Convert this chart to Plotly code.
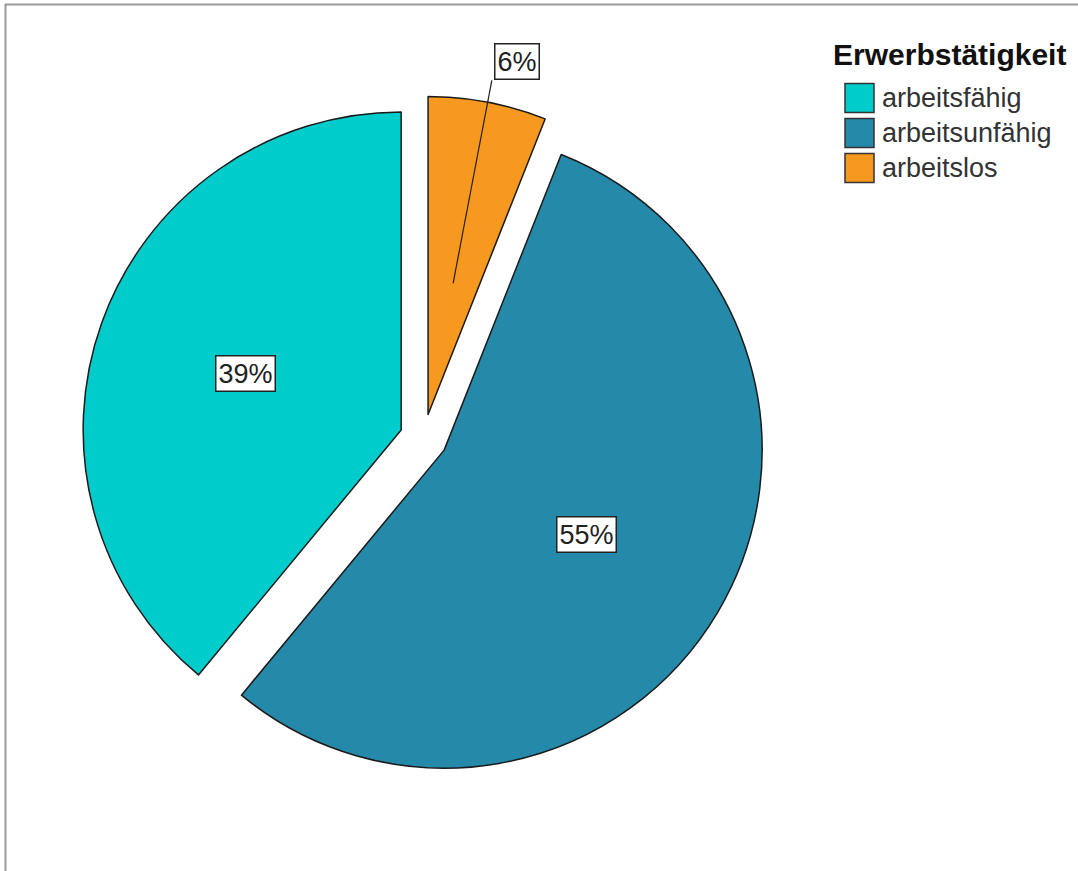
import math
import plotly.graph_objects as go

# Erwerbstätigkeit distribution
categories = ["arbeitsfähig", "arbeitsunfähig", "arbeitslos"]
values = [39, 55, 6]
colors = ["#00CCCC", "#2589AA", "#F7991F"]
legend_title = "Erwerbstätigkeit"

W, H = 1078, 871
FONT = "Liberation Sans, Arial, sans-serif"

# pie geometry (pixels); slices run counterclockwise, the first one ending at 12 o'clock
radius = 318
pull = 0.075
cx, cy = 423.6, 438.0
total = sum(values)
first_span = 360 * values[0] / total
rotation = 360 - first_span
box = 2 * radius * (1 + pull)

def px(x):
    return x / W

def py(y):
    return 1 - y / H

fig = go.Figure(
    go.Pie(
        labels=categories,
        values=values,
        sort=False,
        direction="counterclockwise",
        rotation=rotation,
        pull=pull,
        marker=dict(colors=colors, line=dict(color="#1a1a1a", width=1.5)),
        textinfo="none",
        hoverinfo="label+percent",
        showlegend=False,
        domain=dict(x=[px(cx - box / 2), px(cx + box / 2)],
                    y=[py(cy + box / 2), py(cy - box / 2)]),
    )
)

label_style = dict(showarrow=False, font=dict(family=FONT, size=27, color="#222"),
                   bgcolor="white", bordercolor="#222", borderwidth=1.5, borderpad=2)

annotations = []
shapes = []
start = rotation + first_span  # angle clockwise from 12 o'clock
for name, v in zip(categories, values):
    span = 360 * v / total
    mid = math.radians(start - span / 2)
    dx, dy = math.sin(mid), -math.cos(mid)
    pct = f"{round(100 * v / total)}%"
    if v / total >= 0.1:
        d = (pull + 0.52) * radius
        annotations.append(dict(
            x=px(cx + dx * d), y=py(cy + dy * d), xref="paper", yref="paper",
            xanchor="center", yanchor="middle", text=pct, **label_style,
        ))
    else:
        d0 = (pull + 0.42) * radius
        d1 = 1.145 * radius
        x0, y0 = cx + dx * d0, cy + dy * d0
        x1, y1 = cx + dx * d1, cy + dy * d1
        shapes.append(dict(type="line", xref="paper", yref="paper",
                           x0=px(x0), y0=py(y0), x1=px(x1), y1=py(y1),
                           line=dict(color="#222", width=1.2)))
        annotations.append(dict(
            x=px(x1 + 2), y=py(y1), xref="paper", yref="paper",
            xanchor="left", yanchor="bottom", text=pct, **label_style,
        ))
    start -= span

# legend drawn as swatches and labels
annotations.append(dict(
    x=px(831), y=py(54), xref="paper", yref="paper", xanchor="left", yanchor="middle",
    text=f"<b>{legend_title}</b>", showarrow=False,
    font=dict(family=FONT, size=30, color="#111"),
))
row0, pitch, sw = 98, 35, 29
for i, (name, c) in enumerate(zip(categories, colors)):
    yc = row0 + i * pitch
    shapes.append(dict(type="rect", xref="paper", yref="paper",
                       x0=px(845), x1=px(845 + sw), y0=py(yc + sw / 2), y1=py(yc - sw / 2),
                       fillcolor=c, line=dict(color="#333", width=1.5)))
    annotations.append(dict(
        x=px(880), y=py(yc), xref="paper", yref="paper", xanchor="left", yanchor="middle",
        text=name, showarrow=False, font=dict(family=FONT, size=27, color="#333"),
    ))

# outer frame lines
shapes.append(dict(type="line", xref="paper", yref="paper", x0=px(5), x1=1,
                   y0=py(4.5), y1=py(4.5), line=dict(color="#9a9a9a", width=2)))
shapes.append(dict(type="line", xref="paper", yref="paper", x0=px(5.5), x1=px(5.5),
                   y0=py(4), y1=0, line=dict(color="#9a9a9a", width=2)))

fig.update_layout(
    width=W, height=H,
    margin=dict(l=0, r=0, t=0, b=0),
    paper_bgcolor="white", plot_bgcolor="white",
    showlegend=False,
    annotations=annotations,
    shapes=shapes,
)

fig.write_html("out.html")
